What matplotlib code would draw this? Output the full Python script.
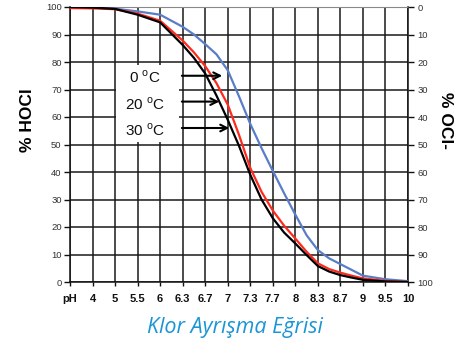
import matplotlib
matplotlib.use("Agg")
import matplotlib.pyplot as plt
import numpy as np

plt.rcParams['font.family'] = ['Liberation Sans', 'DejaVu Sans']
plt.rcParams['mathtext.fontset'] = 'custom'
plt.rcParams['mathtext.rm'] = 'Liberation Sans'

x_labels = ["pH", "4", "5", "5.5", "6", "6.3", "6.7", "7", "7.3", "7.7", "8", "8.3", "8.7", "9", "9.5", "10"]
# category positions at which the curves were read (0 = "pH", 15 = "10")
curve_x = [0, 1, 2, 3, 4, 5, 5.5, 6, 6.5, 7, 7.5, 8, 8.5, 9, 9.5, 10, 10.5, 11, 11.5, 12, 12.5, 13, 14, 15]
hocl_0c = [100, 99.8, 99.4, 98.4, 97.2, 92.8, 90.0, 86.5, 82.8, 77.0, 67.5, 57.5, 48.7, 40.4, 32.3, 24.5,
           17.0, 11.6, 8.6, 6.5, 4.4, 2.3, 1.0, 0.3]
hocl_20c = [99.6, 99.5, 99.2, 97.6, 95.0, 87.8, 83.5, 78.5, 72.3, 64.5, 53.5, 41.5, 32.8, 26.0, 20.5, 15.8,
            11.0, 6.8, 4.7, 3.4, 2.3, 1.3, 0.4, 0.0]
hocl_30c = [100, 99.8, 99.3, 97.2, 94.4, 86.2, 81.5, 75.8, 67.8, 59.0, 49.5, 39.0, 30.0, 23.2, 18.0, 14.0,
            9.8, 5.8, 3.8, 2.5, 1.6, 0.8, 0.2, 0.0]
y_ticks = [0, 10, 20, 30, 40, 50, 60, 70, 80, 90, 100]
temp_labels = ["0 $^\\mathregular{o}$C", "20 $^\\mathregular{o}$C", "30 $^\\mathregular{o}$C"]

fig = plt.figure(figsize=(4.65, 3.47), dpi=100)
ax = fig.add_axes([70/465, 1-282/347, 338/465, 275/347])
xs = np.arange(len(x_labels))

ax.set_xlim(0, len(x_labels)-1)
ax.set_ylim(0, 100)
ax.set_xticks(xs)
ax.set_xticklabels(x_labels, fontsize=8, fontweight='bold', color='#111111')
ax.set_yticks(y_ticks)
ax.set_yticklabels([str(v) for v in y_ticks], fontsize=6.8, color='#333333')
ax.tick_params(axis='x', length=3, width=1, color='#111111', pad=6)
ax.tick_params(axis='y', length=4, width=1, color='#111111', pad=2)
ax.grid(True, color='#1a1a1a', linewidth=1.1)
ax.set_axisbelow(True)
for s in ['left', 'bottom', 'right']:
    ax.spines[s].set_color('#111111')
    ax.spines[s].set_linewidth(1.1)
ax.spines['top'].set_color('#888888')

ax2 = ax.twinx()
ax2.set_ylim(100, 0)
ax2.set_yticks(y_ticks)
ax2.set_yticklabels([str(v) for v in y_ticks], fontsize=6.8, color='#333333')
ax2.tick_params(axis='y', length=4, width=1, color='#111111', pad=3)
for s in ax2.spines.values():
    s.set_visible(False)

ax.plot(curve_x, hocl_0c, color='#5a7dc8', lw=1.6, zorder=5, solid_joinstyle='round')
ax.plot(curve_x, hocl_20c, color='#ff2a1e', lw=1.6, zorder=6, solid_joinstyle='round')
ax.plot(curve_x, hocl_30c, color='#000000', lw=1.6, zorder=7, solid_joinstyle='round')

# white label box
ax.add_patch(plt.Rectangle((2.05, 51), 2.8, 28, facecolor='white', edgecolor='none', zorder=3))

label_y = [74.5, 64.7, 55.3]
arrow_end = [(6.88, 75.0), (6.75, 65.6), (7.19, 56.0)]
for t, ly, (ex, ey) in zip(temp_labels, label_y, arrow_end):
    ax.text(3.33, ly, t, ha='center', va='center', fontsize=11, color='#111111', zorder=8)
    ax.annotate('', xy=(ex, ey), xytext=(4.84, ey),
                arrowprops=dict(arrowstyle='->', color='black', lw=1.5, mutation_scale=12), zorder=8)

fig.text(27/465, 1-120/347, '% HOCl', rotation=90, ha='center', va='center',
         fontsize=12.5, fontweight='bold')
fig.text(445/465, 1-120/347, '% OCl-', rotation=270, ha='center', va='center',
         fontsize=12.5, fontweight='bold')
fig.text(235/465, 1-327/347, 'Klor Ayrışma Eğrisi', ha='center', va='center',
         fontsize=15.5, style='italic', color='#1a95d5',
         family=['Open Sans', 'DejaVu Sans'])

fig.savefig('out.png', dpi=100)
